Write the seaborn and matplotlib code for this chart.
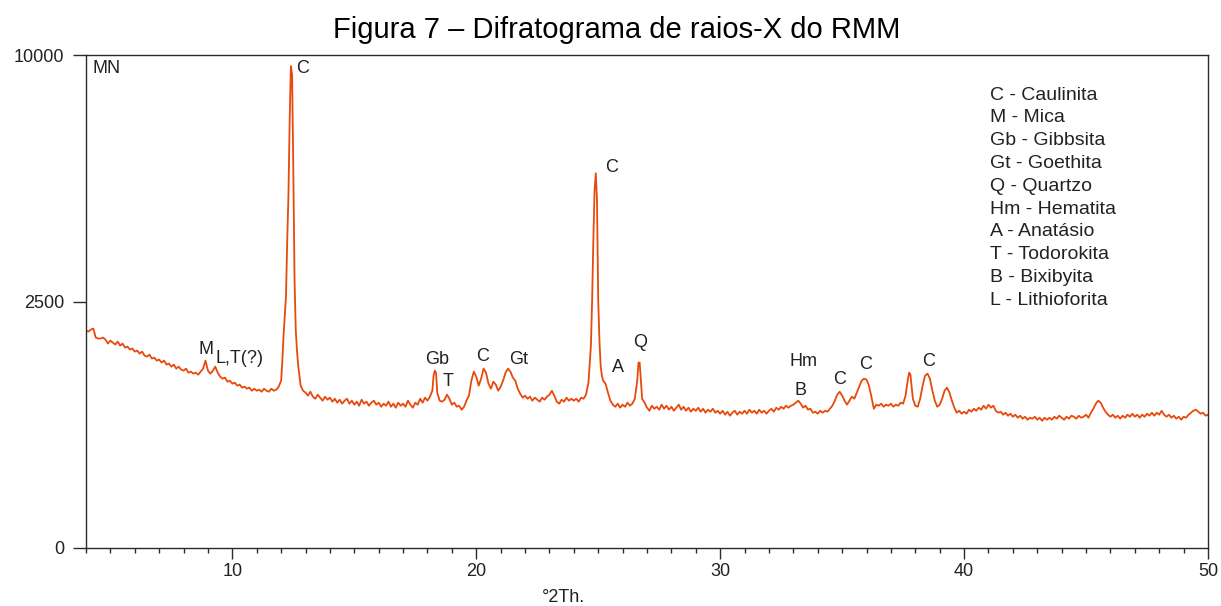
import numpy as np
import pandas as pd
import matplotlib
matplotlib.use("Agg")
import matplotlib.pyplot as plt
from matplotlib.ticker import FixedLocator, MultipleLocator, NullLocator
import seaborn as sns

# ---------------- data ----------------
# regular 0.1 degree grid from 4.0 to 50.0 (counts per step)
theta_start, theta_stop, theta_step = 4.0, 50.0, 0.1
counts_grid = [
    1945, 1927, 1963, 1981, 1822, 1805, 1805, 1822, 1787, 1719,   # 4.x
    1770, 1736, 1702, 1753, 1686, 1719, 1653, 1669, 1620, 1636,   # 5.x
    1587, 1603, 1555, 1587, 1523, 1507, 1539, 1476, 1491, 1445,   # 6.x
    1460, 1414, 1445, 1384, 1399, 1353, 1384, 1324, 1353, 1309,   # 7.x
    1294, 1324, 1265, 1280, 1251, 1265, 1236, 1280, 1324, 1445,   # 8.x
    1294, 1251, 1294, 1353, 1265, 1208, 1180, 1194, 1138, 1152,   # 9.x
    1111, 1125, 1084, 1098, 1058, 1071, 1044, 1058, 1018, 1044,   # 10.x
    1018, 1031, 1005, 1044, 1018, 1005, 1044, 1018, 1031, 1071,   # 11.x
    1152, 1857, 2623, 5119, 9558, 5871, 1945, 1368, 1084, 1018,   # 12.x
    993, 955, 1005, 942, 917, 967, 930, 893, 942, 905,            # 13.x
    930, 881, 917, 869, 905, 857, 893, 917, 857, 893,             # 14.x
    845, 881, 833, 905, 857, 881, 833, 869, 893, 845,             # 15.x
    869, 821, 857, 833, 881, 821, 857, 810, 869, 833,             # 16.x
    857, 821, 893, 845, 810, 869, 845, 917, 869, 930,             # 17.x
    893, 942, 1018, 1294, 993, 893, 881, 905, 967, 917,           # 18.x
    845, 869, 821, 833, 787, 821, 893, 955, 1152, 1280,           # 19.x
    1208, 1084, 1180, 1324, 1265, 1111, 1044, 1138, 1098, 1018,   # 20.x
    1071, 1152, 1265, 1324, 1280, 1194, 1152, 1044, 980, 930,     # 21.x
    955, 917, 942, 893, 930, 905, 881, 930, 905, 942,             # 22.x
    967, 1018, 955, 881, 857, 905, 881, 930, 893, 917,            # 23.x
    893, 917, 881, 930, 917, 967, 1125, 1686, 3893, 5778,         # 24.x
    2520, 1368, 1152, 1111, 993, 893, 845, 821, 857, 810,         # 25.x
    845, 821, 869, 833, 857, 917, 1152, 1414, 917, 869,           # 26.x
    810, 775, 833, 798, 821, 787, 845, 798, 833, 787,             # 27.x
    821, 775, 810, 845, 787, 821, 775, 810, 764, 798,             # 28.x
    775, 810, 764, 798, 753, 787, 764, 798, 753, 775,             # 29.x
    742, 775, 731, 764, 720, 753, 775, 731, 764, 742,             # 30.x
    775, 742, 787, 753, 775, 742, 787, 753, 775, 742,             # 31.x
    775, 798, 764, 810, 787, 821, 798, 833, 810, 833,             # 32.x
    845, 869, 893, 857, 810, 833, 787, 798, 753, 764,             # 33.x
    742, 775, 753, 775, 764, 798, 833, 893, 967, 1005,            # 34.x
    955, 893, 845, 893, 942, 917, 993, 1071, 1152, 1180,          # 35.x
    1166, 1084, 942, 798, 845, 833, 857, 821, 845, 833,           # 36.x
    857, 821, 845, 833, 869, 857, 955, 1180, 1236, 917,           # 37.x
    833, 821, 917, 1084, 1222, 1251, 1180, 1018, 893, 821,        # 38.x
    845, 917, 1018, 1058, 993, 893, 810, 753, 775, 742,           # 39.x
    764, 742, 787, 764, 798, 775, 810, 787, 833, 798,             # 40.x
    845, 810, 833, 775, 753, 764, 731, 753, 720, 742,             # 41.x
    709, 731, 698, 720, 688, 709, 677, 698, 688, 709,             # 42.x
    677, 698, 666, 698, 677, 698, 677, 709, 688, 720,             # 43.x
    698, 677, 709, 688, 720, 709, 688, 720, 698, 709,             # 44.x
    731, 698, 753, 798, 857, 893, 869, 810, 764, 731,             # 45.x
    709, 731, 698, 720, 688, 720, 698, 731, 709, 742,             # 46.x
    709, 731, 698, 731, 709, 742, 720, 753, 720, 753,             # 47.x
    731, 775, 731, 709, 731, 698, 720, 688, 709, 677,             # 48.x
    709, 698, 731, 753, 775, 787, 764, 742, 753, 720,             # 49.x
    731,                                                          # 50.0
]

# extra readings on the flanks of the sharp reflections
peak_theta = [12.05, 12.15, 12.25, 12.35, 12.45, 12.55, 12.65,
              18.25, 18.35,
              24.75, 24.85, 24.95, 25.05, 25.15,
              26.65, 26.75, 37.75]
peak_counts = [1445, 2224, 3893, 7532, 9203, 2945, 1603,
               1222, 1265,
               2520, 5265, 4974, 1770, 1222,
               1414, 1152, 1265]

# phase labels placed over the reflections (label, 2theta, counts, align)
peak_labels = ["MN", "C", "M", "L,T(?)", "Gb", "T", "C", "Gt", "C",
               "A", "Q", "Hm", "B", "C", "C", "C"]
peak_label_x = [4.25, 12.89, 8.92, 9.29, 18.39, 18.84, 20.27, 21.75, 25.56,
                25.80, 26.70, 33.43, 33.30, 34.90, 35.97, 38.55]
peak_label_y = [9479, 9479, 1619, 1476, 1460, 1138, 1507, 1460, 5966,
                1338, 1736, 1429, 1018, 1166, 1383, 1429]
peak_label_ha = ["left", "center", "center", "left", "center", "center",
                 "center", "center", "center", "center", "center", "center",
                 "center", "center", "center", "center"]

legend_lines = ["C - Caulinita", "M - Mica", "Gb - Gibbsita", "Gt - Goethita",
                "Q - Quartzo", "Hm - Hematita", "A - Anatásio",
                "T - Todorokita", "B - Bixibyita", "L - Lithioforita"]

y_ticks = [0, 2500, 10000]
y_tick_labels = ["0", "2500", "10000"]
x_major = [10, 20, 30, 40, 50]
x_major_labels = ["10", "20", "30", "40", "50"]

title = "Figura 7 – Difratograma de raios-X do RMM"
x_label = "°2Th."

# ---------------- build frame ----------------
grid_theta = np.round(np.arange(theta_start, theta_stop + theta_step / 2, theta_step), 2)
df = pd.concat([
    pd.DataFrame({"two_theta": grid_theta, "counts": counts_grid}),
    pd.DataFrame({"two_theta": peak_theta, "counts": peak_counts}),
]).sort_values("two_theta").reset_index(drop=True)

# ---------------- style ----------------
sns.set_style("ticks")
plt.rcParams["font.family"] = ["Liberation Sans", "DejaVu Sans"]

line_color = "#E8490C"
axis_color = "#2a2a2a"
text_color = "#222222"

fig = plt.figure(figsize=(12.21, 6.06), dpi=100)
ax = fig.add_axes([86 / 1221, (606 - 548) / 606, 1122 / 1221, 493 / 606])

sns.lineplot(data=df, x="two_theta", y="counts", ax=ax, color=line_color,
             linewidth=1.3, estimator=None, sort=True)

ax.set_yscale("function", functions=(lambda v: np.sqrt(np.clip(v, 0, None)),
                                     lambda v: np.square(v)))
ax.set_xlim(4, 50)
ax.set_ylim(0, 10000)

ax.yaxis.set_major_locator(FixedLocator(y_ticks))
ax.set_yticklabels(y_tick_labels)
ax.yaxis.set_minor_locator(NullLocator())
ax.xaxis.set_major_locator(FixedLocator(x_major))
ax.set_xticklabels(x_major_labels)
ax.xaxis.set_minor_locator(MultipleLocator(1))

for s in ax.spines.values():
    s.set_visible(True)
    s.set_color(axis_color)
    s.set_linewidth(1.0)

ax.tick_params(axis="y", which="major", length=9.5, width=1.0, pad=6,
               labelsize=13, color=axis_color, labelcolor=text_color)
ax.tick_params(axis="x", which="major", length=8, width=1.0, pad=3,
               labelsize=13, color=axis_color, labelcolor=text_color)
ax.tick_params(axis="x", which="minor", length=3.5, width=1.0,
               color=axis_color)

ax.set_xlabel(x_label, fontsize=13, color=text_color)
ax.xaxis.set_label_coords((563 - 86) / 1122, (548 - 598) / 493)
ax.xaxis.label.set_verticalalignment("center")
ax.set_ylabel("")

for lab, px, py, ha in zip(peak_labels, peak_label_x, peak_label_y, peak_label_ha):
    ax.text(px, py, lab, ha=ha, va="center", fontsize=13, color=text_color)

leg_x = (990 - 86) / 1122
leg_y0 = (548 - 95) / 493
leg_dy = 22.8 / 493
for i, line in enumerate(legend_lines):
    ax.text(leg_x, leg_y0 - i * leg_dy, line, transform=ax.transAxes,
            ha="left", va="center", fontsize=14, color=text_color)

fig.text(617 / 1221, 1 - 30 / 606, title, ha="center", va="center",
         fontsize=21, color="black")

fig.savefig("out.png", dpi=100)
